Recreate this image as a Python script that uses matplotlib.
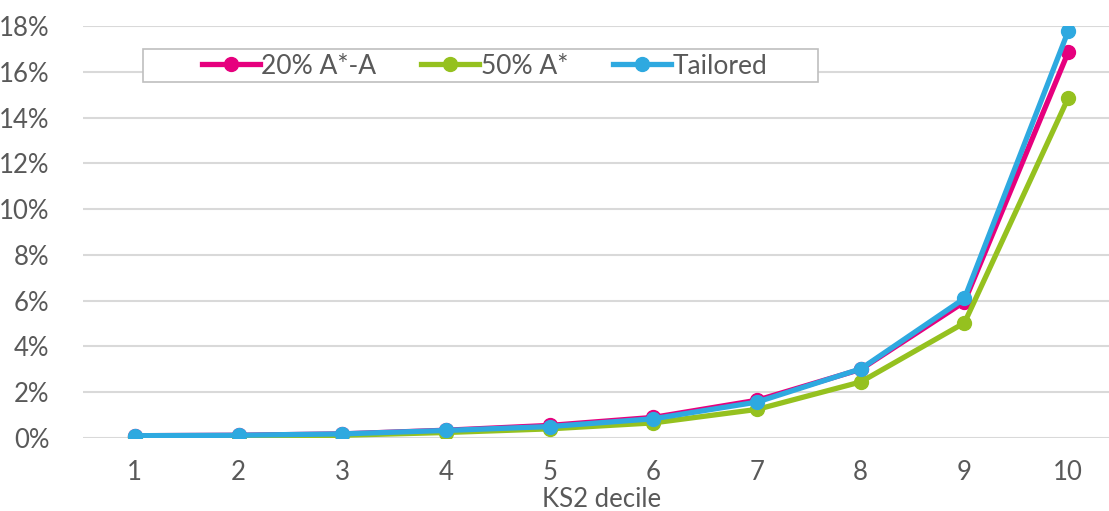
import numpy as np
import matplotlib.pyplot as plt
from matplotlib.ticker import FuncFormatter
from matplotlib.patches import Rectangle

deciles = [1, 2, 3, 4, 5, 6, 7, 8, 9, 10]
a_star_a_20 = [0.10, 0.12, 0.18, 0.34, 0.55, 0.90, 1.65, 3.00, 5.95, 16.85]
a_star_50 = [0.05, 0.07, 0.12, 0.24, 0.40, 0.66, 1.25, 2.45, 5.03, 14.85]
tailored = [0.10, 0.12, 0.18, 0.33, 0.50, 0.84, 1.57, 3.02, 6.10, 17.77]

names = ["20% A*-A", "50% A*", "Tailored"]
colors = ["#E6007E", "#95C11F", "#2EA9E0"]
grey = "#595959"

plt.rcParams['font.family'] = ['Lato', 'DejaVu Sans']

fig = plt.figure(figsize=(11.09, 5.11), dpi=100)
W, H = 1037, 412
ax = fig.add_axes([83/1109, 1 - 438/511, W/1109, H/511])

for vals, name, c in zip([a_star_a_20, a_star_50, tailored], names, colors):
    ax.plot(deciles, vals, color=c, lw=3.8, marker='o', ms=10, label=name,
            solid_joinstyle='round', zorder=3)

ax.set_xlim(0.5, 10.5)
ax.set_ylim(0, 18)
ax.set_yticks(np.arange(0, 19, 2))
ax.yaxis.set_major_formatter(FuncFormatter(lambda v, p: f"{v:.0f}%"))
ax.set_xticks(deciles)
ax.grid(axis='y', color='#D9D9D9', lw=1.5)
ax.set_axisbelow(True)
for s in ax.spines.values():
    s.set_visible(False)
ax.tick_params(length=0, labelsize=18.5, labelcolor=grey)
ax.tick_params(axis='y', pad=24)
ax.tick_params(axis='x', pad=16)
ax.set_xlabel("KS2 decile", fontsize=18.5, color=grey, labelpad=1)

# legend box
ax.add_patch(Rectangle((60/W, 1 - 56/H), 675/W, 33/H, transform=ax.transAxes,
                       fill=True, facecolor='white', edgecolor='#BFBFBF', lw=1.2,
                       zorder=4, clip_on=False))
leg = ax.legend(loc='center', bbox_to_anchor=((60 + 675/2 + 4)/W, 1 - 40/H),
                ncol=3, frameon=False, fontsize=19, labelcolor=grey,
                handlelength=2.2, handletextpad=0.05, columnspacing=1.7)
leg.set_zorder(5)

fig.savefig("out.png", dpi=100)
